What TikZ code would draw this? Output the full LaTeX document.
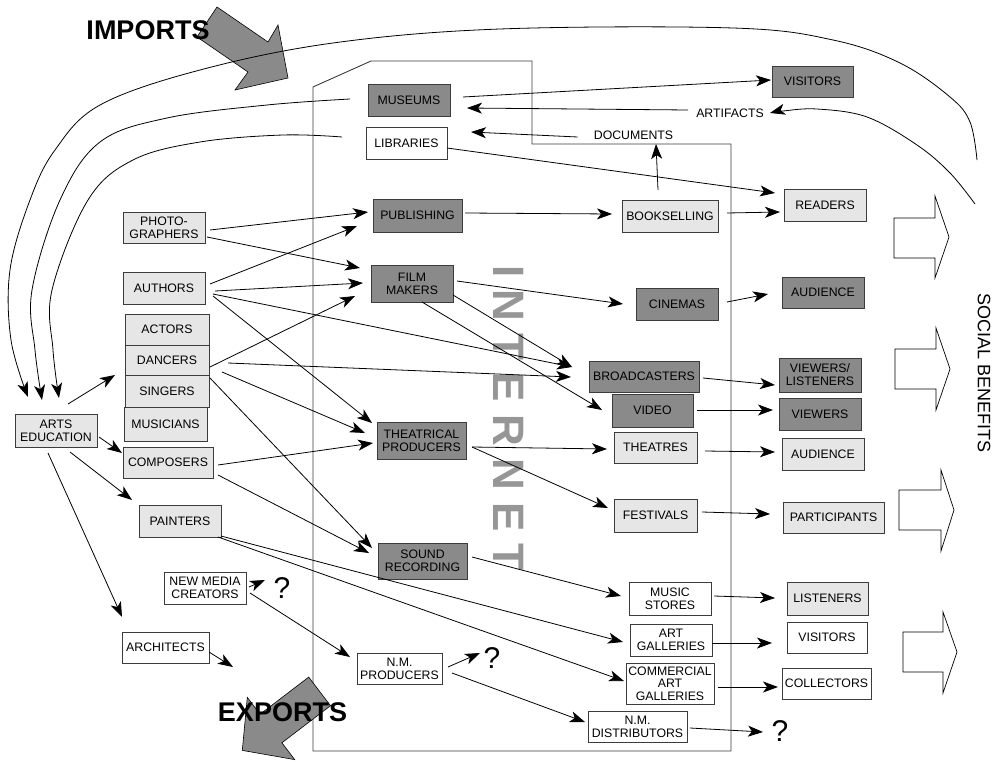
\documentclass[tikz,border=0pt]{standalone}
\usepackage{fontspec}
\setmainfont{Liberation Sans}
\usetikzlibrary{arrows.meta,calc}
\definecolor{darkfill}{RGB}{138,138,138}
\definecolor{lightfill}{RGB}{230,230,230}
\definecolor{framegray}{RGB}{60,60,60}
\definecolor{nettext}{RGB}{150,150,150}
\begin{document}
\begin{tikzpicture}[x=1pt,y=-1pt,
  box/.style={draw=framegray, line width=0.9pt, inner sep=0pt, align=center, font=\fontsize{12.3}{13}\selectfont},
  darkbox/.style={box, fill=darkfill},
  lightbox/.style={box, fill=lightfill},
  whitebox/.style={box, fill=white},
  sz/.style 2 args={minimum width=#1, minimum height=#2},
  arr/.style={line width=0.8pt, -{Stealth[length=15pt,width=11pt,inset=4pt]}},
  lbl/.style={font=\fontsize{12.3}{13}\selectfont, inner sep=2pt},
  qmark/.style={font=\fontsize{30}{30}\selectfont, inner sep=0pt},
  blockarrow/.style={draw=black, line width=0.6pt, fill=darkfill},
  benefit/.style={draw=black, line width=0.7pt, fill=white},
  headline/.style={font=\bfseries\fontsize{27}{27}\selectfont, inner sep=0pt}
]
\useasboundingbox (0,0) rectangle (1000,762);

% Internet boundary
\draw[line width=0.9pt, draw=framegray] (313,87) -- (371,61) -- (532,61) -- (532,144) -- (731,144) -- (731,751) -- (313,751) -- cycle;
\node[rotate=-90, font=\bfseries\fontsize{44}{44}\selectfont, text=nettext, inner sep=0pt] (internet) at (509,418) {I N T E R N E T};

% big block arrows
\draw[blockarrow] (217,7) -- (268,42) -- (278,25) -- (288,78) -- (235,90) -- (248,72) -- (197,37) -- cycle;
\draw[blockarrow] (308.7,677.1) -- (330.5,705.7) -- (281.9,742.8) -- (294.7,759.6) -- (242.3,750.4) -- (247.3,697.4) -- (260.1,714.2) -- cycle;

% social benefit arrows
\draw[benefit] (894,218) -- (935,218) -- (935,196) -- (949,237) -- (935,278) -- (935,258) -- (894,258) -- cycle;
\draw[benefit] (895,349) -- (936,349) -- (936,328) -- (950,369) -- (936,410) -- (936,389) -- (895,389) -- cycle;
\draw[benefit] (899,490) -- (941,490) -- (941,470) -- (954,510) -- (941,551) -- (941,530) -- (899,530) -- cycle;
\draw[benefit] (903,632) -- (943,632) -- (943,612) -- (957,652) -- (943,693) -- (943,672) -- (903,672) -- cycle;
\node[rotate=-90, font=\fontsize{18}{18}\selectfont, inner sep=0pt] (social) at (984,373) {SOCIAL BENEFITS};

% nodes
\node[darkbox, sz={82}{32}] (museums) at (409,100) {MUSEUMS};
\node[whitebox, sz={81}{32}] (libraries) at (406.5,143) {LIBRARIES};
\node[darkbox, sz={81}{31}] (visitorsA) at (812.5,81.5) {VISITORS};
\node[lightbox, sz={82}{32}] (readers) at (825,205) {READERS};
\node[lightbox, sz={82}{31}] (photo) at (164,227.5) {PHOTO-\\GRAPHERS};
\node[lightbox, sz={82}{32}] (authors) at (164,288) {AUTHORS};
\node[lightbox, sz={84}{31}] (actors) at (167,329.5) {ACTORS};
\node[lightbox, sz={84}{30}] (dancers) at (167,360) {DANCERS};
\node[lightbox, sz={84}{32}] (singers) at (167,391) {SINGERS};
\node[lightbox, sz={83}{34}] (musicians) at (165.5,424) {MUSICIANS};
\node[lightbox, sz={90}{31}] (composers) at (168,462.5) {COMPOSERS};
\node[lightbox, sz={82}{33}] (artsed) at (56,430.5) {ARTS\\EDUCATION};
\node[lightbox, sz={82}{32}] (painters) at (180,521) {PAINTERS};
\node[whitebox, sz={82}{32}] (nmc) at (205,588) {NEW MEDIA\\CREATORS};
\node[whitebox, sz={87}{31}] (architects) at (165.5,647.5) {ARCHITECTS};
\node[whitebox, sz={85}{31}] (nmp) at (399.5,668.5) {N.M.\\PRODUCERS};
\node[darkbox, sz={89}{36}] (sound) at (422.5,561) {SOUND\\RECORDING};
\node[darkbox, sz={89}{33}] (publishing) at (417.5,215.5) {PUBLISHING};
\node[darkbox, sz={82}{37}] (film) at (412,283.5) {FILM\\MAKERS};
\node[darkbox, sz={89}{37}] (theatrical) at (421.5,440.5) {THEATRICAL\\PRODUCERS};
\node[lightbox, sz={96}{32}] (bookselling) at (670,216) {BOOKSELLING};
\node[darkbox, sz={82}{32}] (cinemas) at (677,304) {CINEMAS};
\node[darkbox, sz={82}{31}] (audienceA) at (823,292.5) {AUDIENCE};
\node[darkbox, sz={110}{31}] (broadcasters) at (644,376.5) {BROADCASTERS};
\node[darkbox, sz={81}{33}] (video) at (652.5,410.5) {VIDEO};
\node[lightbox, sz={83}{31}] (theatres) at (655.5,447.5) {THEATRES};
\node[darkbox, sz={82}{34}] (viewlist) at (820,375) {VIEWERS/\\LISTENERS};
\node[darkbox, sz={82}{32}] (viewers) at (820,414) {VIEWERS};
\node[lightbox, sz={82}{32}] (audienceB) at (823,454) {AUDIENCE};
\node[lightbox, sz={83}{33}] (festivals) at (655.5,515.5) {FESTIVALS};
\node[lightbox, sz={101}{31}] (participants) at (833.5,517.5) {PARTICIPANTS};
\node[whitebox, sz={82}{33}] (musicstores) at (670,598.5) {MUSIC\\STORES};
\node[lightbox, sz={81}{33}] (listeners) at (827.5,598.5) {LISTENERS};
\node[whitebox, sz={82}{32}] (artgal) at (671,640) {ART\\GALLERIES};
\node[whitebox, sz={80}{31}] (visitorsB) at (827,637.5) {VISITORS};
\node[whitebox, sz={88}{41}, font=\fontsize{12.3}{12.5}\selectfont] (commercial) at (670,683.5) {COMMERCIAL\\ART\\GALLERIES};
\node[whitebox, sz={89}{31}] (collectors) at (826.5,683.5) {COLLECTORS};
\node[whitebox, sz={99}{31}] (nmd) at (637.5,726.5) {N.M.\\DISTRIBUTORS};

\node[lbl] (artifacts) at (730,113) {ARTIFACTS};
\node[lbl] (documents) at (633.5,135) {DOCUMENTS};
\node[qmark] (q1) at (282,588) {?};
\node[qmark] (q2) at (492,658) {?};
\node[qmark] (q3) at (780,731) {?};

% free ends
\coordinate (outerstart) at (977,160);
\coordinate (artstart) at (975,204);
\coordinate (archend) at (233,667);
\coordinate (e1) at ($(artsed)+(-28,-33.5)$);
\coordinate (e2) at ($(artsed)+(-14,-30.5)$);
\coordinate (e3) at ($(artsed)+(3,-32.5)$);
\coordinate (m0) at ($(museums)+(-59,-1)$);
\coordinate (l0) at ($(libraries)+(-64.5,-6)$);
\coordinate (a1) at ($(artifacts)+(40,0)$);

% curves
\draw[arr] plot[smooth, tension=0.6] coordinates {(outerstart) (970,122) (950,97) (900,63) (833,40) (733,28) (500,29) (333,43) (200,70) (100,105) (55,150) (30,200) (10,270) (11,340) (e1)};
\draw[arr] plot[smooth, tension=0.6] coordinates {(m0) (267,105) (167,118) (100,142) (60,200) (32,290) (35,350) (e2)};
\draw[arr] plot[smooth, tension=0.6] coordinates {(l0) (283,135) (200,142) (133,160) (88,200) (52,290) (53,350) (e3)};
\draw[arr] plot[smooth, tension=0.6] coordinates {(artstart) (950,173) (917,145) (867,117) (817,109) (783,111) (a1)};

% straight connectors
\draw[arr] ($(museums)+(54,-3)$) -- ($(visitorsA)+(-41.5,-1.5)$);
\draw[arr] ($(artifacts.west)+(-6,-3)$) -- ($(museums)+(58,8)$);
\draw[arr] ($(documents.west)+(-14,2)$) -- ($(libraries)+(64.5,-11)$);
\draw[arr] ($(libraries)+(40.5,5)$) -- ($(readers)+(-50,-12)$);
\draw[arr] ($(bookselling)+(-12,-26)$) -- ($(documents)+(22.5,9)$);
\draw[arr] ($(publishing)+(47.5,-2.5)$) -- ($(bookselling)+(-58,-2)$);
\draw[arr] ($(bookselling)+(57,-3)$) -- ($(readers)+(-45,7)$);
\draw[arr] ($(photo)+(46,2.5)$) -- ($(publishing)+(-49.5,-3.5)$);
\draw[arr] ($(photo)+(43,9.5)$) -- ($(film)+(-52,-15.5)$);
\draw[arr] ($(authors)+(46,-4)$) -- ($(publishing)+(-60.5,10.5)$);
\draw[arr] ($(authors)+(51,3)$) -- ($(film)+(-49,-0.5)$);
\draw[arr] ($(authors)+(49,6)$) -- ($(broadcasters)+(-72,-9.5)$);
\draw[arr] ($(authors)+(49,8)$) -- ($(theatrical)+(-49.5,-17.5)$);
\draw[arr] ($(dancers)+(43,7)$) -- ($(film)+(-57,12.5)$);
\draw[arr] ($(dancers)+(61,3)$) -- ($(broadcasters)+(-73,0.5)$);
\draw[arr] ($(dancers)+(55,12)$) -- ($(theatrical)+(-56.5,-7.5)$);
\draw[arr] ($(singers)+(43,-13)$) -- ($(sound)+(-50.5,-13)$);
\draw[arr] ($(composers)+(50,2.5)$) -- ($(theatrical)+(-48.5,2.5)$);
\draw[arr] ($(composers)+(50,12.5)$) -- ($(sound)+(-53.5,-8)$);
\draw[arr] ($(film)+(45,-2.5)$) -- ($(cinemas)+(-54,0)$);
\draw[arr] ($(film)+(41,11.5)$) -- ($(broadcasters)+(-72,-9.5)$);
\draw[arr] ($(film)+(10,18.5)$) -- ($(video)+(-50.5,-0.5)$);
\draw[arr] ($(cinemas)+(50,-2)$) -- ($(audienceA)+(-55,1.5)$);
\draw[arr] ($(broadcasters)+(59,1.5)$) -- ($(viewlist)+(-45,10)$);
\draw[arr] ($(video)+(44.5,-0.5)$) -- ($(viewers)+(-47,-4)$);
\draw[arr] ($(theatrical)+(50.5,6.5)$) -- ($(theatres)+(-48.5,1.5)$);
\draw[arr] ($(theatrical)+(50.5,6.5)$) -- ($(festivals)+(-47.5,-7.5)$);
\draw[arr] ($(theatres)+(49.5,3.5)$) -- ($(audienceB)+(-48,-2)$);
\draw[arr] ($(festivals)+(46.5,-3.5)$) -- ($(participants)+(-63.5,-3.5)$);
\draw[arr] ($(sound)+(49.5,-4)$) -- ($(musicstores)+(-49,-2.5)$);
\draw[arr] ($(musicstores)+(44,-2.5)$) -- ($(listeners)+(-52.5,-0.5)$);
\draw[arr] ($(painters)+(41,15)$) -- ($(artgal)+(-48,2)$);
\draw[arr] ($(painters)+(38,16)$) -- ($(commercial)+(-46,-2.5)$);
\draw[arr] ($(artgal)+(41,3)$) -- ($(visitorsB)+(-55,5.5)$);
\draw[arr] ($(commercial)+(48,3.5)$) -- ($(collectors)+(-48.5,3.5)$);
\draw[arr] ($(nmc)+(44,-1)$) -- ($(q1)+(-17,-8)$);
\draw[arr] ($(nmc)+(45,5)$) -- ($(nmp)+(-49.5,-11.5)$);
\draw[arr] ($(nmp)+(48.5,-1.5)$) -- ($(q2)+(-12,-5)$);
\draw[arr] ($(nmp)+(52.5,4.5)$) -- ($(nmd)+(-52.5,-4.5)$);
\draw[arr] ($(nmd)+(52.5,1.5)$) -- ($(q3)+(-17,1)$);
\draw[arr] ($(architects)+(43.5,4.5)$) -- (archend);
\draw[arr] ($(artsed)+(12,-26.5)$) -- ($(singers)+(-52,-16)$);
\draw[arr] ($(artsed)+(43,6.5)$) -- ($(composers)+(-46,-9.5)$);
\draw[arr] ($(artsed)+(14,21.5)$) -- ($(painters)+(-48,-21)$);
\draw[arr] ($(artsed)+(-8,22.5)$) -- ($(architects)+(-43.5,-30.5)$);

% headlines on top
\node[headline] (imports) at (148,30) {IMPORTS};
\node[headline] (exports) at (282.5,712) {EXPORTS};
\end{tikzpicture}
\end{document}
